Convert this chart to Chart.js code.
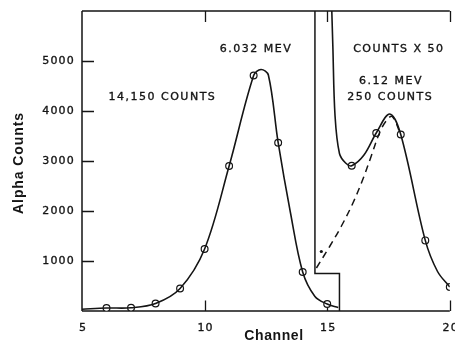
<!DOCTYPE html>
<html>
<head>
<meta charset="utf-8">
<script src="https://cdn.jsdelivr.net/npm/chart.js@4/dist/chart.umd.min.js"></script>
<style>
  html, body { margin: 0; padding: 0; background: #ffffff; }
  canvas { display: block; }
</style>
</head>
<body>
<canvas id="c" width="455" height="351"></canvas>
<script>
// ---- data ----
const xTicks = [5, 10, 15, 20];
const yTicks = [1000, 2000, 3000, 4000, 5000];

const markerChannels = [6, 7, 8, 9, 10, 11, 12, 13, 14, 15, 16, 17, 18, 19, 20];
const markerCounts   = [60, 65, 150, 450, 1240, 2900, 4710, 3366, 780, 140, 2906, 3560, 3530, 1412, 480];

const mainCurveX = [5, 6, 7, 8, 9, 10, 11, 12, 12.3, 12.6, 13, 13.5, 14, 14.5, 15, 15.45];
const mainCurveY = [35, 60, 65, 150, 450, 1240, 2900, 4710, 4830, 4720, 3366, 1970, 780, 292, 140, 70];

const x50CurveX = [15.17, 15.23, 15.32, 15.5, 15.75, 16, 16.5, 17, 17.55, 18, 19, 19.5, 20];
const x50CurveY = [6300, 5300, 3900, 3150, 2960, 2906, 3120, 3560, 3940, 3530, 1412, 790, 480];

const dashX = [14.56, 15.1, 15.57, 16.05, 16.45, 16.79, 17.13, 17.4, 17.65, 18];
const dashY = [860, 1290, 1690, 2160, 2630, 3090, 3560, 3800, 3890, 3530];

const stepX = [14.5, 14.5, 15.5, 15.5];
const stepY = [6000, 750, 750, 0];

const strayX = [14.76];
const strayY = [1190];

const annotations = [
  { text: '6.032 MEV',     x: 12.1,  y: 5230 },
  { text: '14,150 COUNTS', x: 8.28,  y: 4270 },
  { text: 'COUNTS X 50',   x: 17.92, y: 5230 },
  { text: '6.12 MEV',      x: 17.6,  y: 4600 },
  { text: '250 COUNTS',    x: 17.57, y: 4280 }
];

const xTitle = 'Channel';
const yTitle = 'Alpha Counts';

// ---- helpers ----
const pts = (xs, ys) => xs.map((x, i) => ({ x: x, y: ys[i] }));
const INK = '#151515';

function inkText(ctx, s, x, y, sw) {
  ctx.fillText(s, x, y);
  ctx.lineWidth = sw;
  ctx.strokeText(s, x, y);
}

const framePlugin = {
  id: 'frame',
  beforeDatasetsDraw(chart) {
    const ctx = chart.ctx;
    const a = chart.chartArea;
    const xs = chart.scales.x, ys = chart.scales.y;
    ctx.save();
    ctx.strokeStyle = INK;
    ctx.lineWidth = 1.5;
    ctx.beginPath();
    ctx.moveTo(a.left, a.top); ctx.lineTo(a.left, a.bottom);
    ctx.moveTo(a.left, a.bottom); ctx.lineTo(a.right, a.bottom);
    ctx.moveTo(a.left, a.top); ctx.lineTo(a.right, a.top);
    ctx.stroke();
    ctx.lineWidth = 1.3;
    ctx.beginPath();
    yTicks.forEach(v => {
      const py = Math.round(ys.getPixelForValue(v)) + 0.5;
      ctx.moveTo(a.left, py); ctx.lineTo(a.left + 12, py);
    });
    xTicks.slice(1).forEach(v => {
      const px = Math.round(xs.getPixelForValue(v)) + 0.5;
      ctx.moveTo(px, a.bottom); ctx.lineTo(px, a.bottom - 10.5);
      ctx.moveTo(px, a.top); ctx.lineTo(px, a.top + 11);
    });
    ctx.stroke();
    ctx.restore();
  },
  afterDraw(chart) {
    const ctx = chart.ctx;
    const a = chart.chartArea;
    const xs = chart.scales.x, ys = chart.scales.y;
    ctx.save();
    ctx.fillStyle = INK;
    ctx.strokeStyle = INK;
    ctx.font = '11px "DejaVu Sans"';
    ctx.letterSpacing = '1.2px';
    ctx.textAlign = 'right';
    ctx.textBaseline = 'middle';
    yTicks.forEach(v => {
      inkText(ctx, String(v), a.left - 7, ys.getPixelForValue(v) + 0.5, 0.35);
    });
    ctx.textAlign = 'center';
    xTicks.forEach(v => {
      inkText(ctx, String(v), xs.getPixelForValue(v) + 1, a.bottom + 17, 0.35);
    });
    ctx.letterSpacing = '1.5px';
    annotations.forEach(t => {
      inkText(ctx, t.text, xs.getPixelForValue(t.x), ys.getPixelForValue(t.y), 0.35);
    });
    ctx.letterSpacing = '0.6px';
    ctx.font = 'bold 14px "Liberation Sans"';
    ctx.fillText(xTitle, 274, 336);
    ctx.save();
    ctx.translate(19, 163);
    ctx.rotate(-Math.PI / 2);
    ctx.letterSpacing = '0.9px';
    ctx.fillText(yTitle, 0, 0);
    ctx.restore();
    ctx.restore();
  }
};

new Chart(document.getElementById('c'), {
  type: 'scatter',
  data: {
    datasets: [
      {
        label: 'step',
        data: pts(stepX, stepY),
        showLine: true, tension: 0,
        borderColor: INK, borderWidth: 1.5,
        pointRadius: 0
      },
      {
        label: 'main',
        data: pts(mainCurveX, mainCurveY),
        showLine: true, tension: 0.35,
        borderColor: INK, borderWidth: 1.6,
        pointRadius: 0
      },
      {
        label: 'x50',
        data: pts(x50CurveX, x50CurveY),
        showLine: true, tension: 0.35,
        borderColor: INK, borderWidth: 1.6,
        pointRadius: 0
      },
      {
        label: 'dashed',
        data: pts(dashX, dashY),
        showLine: true, tension: 0.35,
        borderColor: INK, borderWidth: 1.5,
        borderDash: [7, 5],
        pointRadius: 0
      },
      {
        label: 'stray',
        data: pts(strayX, strayY),
        showLine: false,
        pointRadius: 1.6,
        pointBackgroundColor: INK, pointBorderColor: INK, pointBorderWidth: 0
      },
      {
        label: 'points',
        data: pts(markerChannels, markerCounts),
        showLine: false,
        pointRadius: 3.4,
        pointBackgroundColor: '#ffffff',
        pointBorderColor: INK,
        pointBorderWidth: 1.2
      }
    ]
  },
  options: {
    responsive: false,
    animation: false,
    layout: { padding: { left: 82, right: 2, top: 11, bottom: 40 } },
    plugins: {
      legend: { display: false },
      tooltip: { enabled: false },
      title: { display: false }
    },
    scales: {
      x: { type: 'linear', min: 5, max: 20, display: false },
      y: { type: 'linear', min: 0, max: 6000, display: false }
    }
  },
  plugins: [framePlugin]
});
</script>
</body>
</html>
